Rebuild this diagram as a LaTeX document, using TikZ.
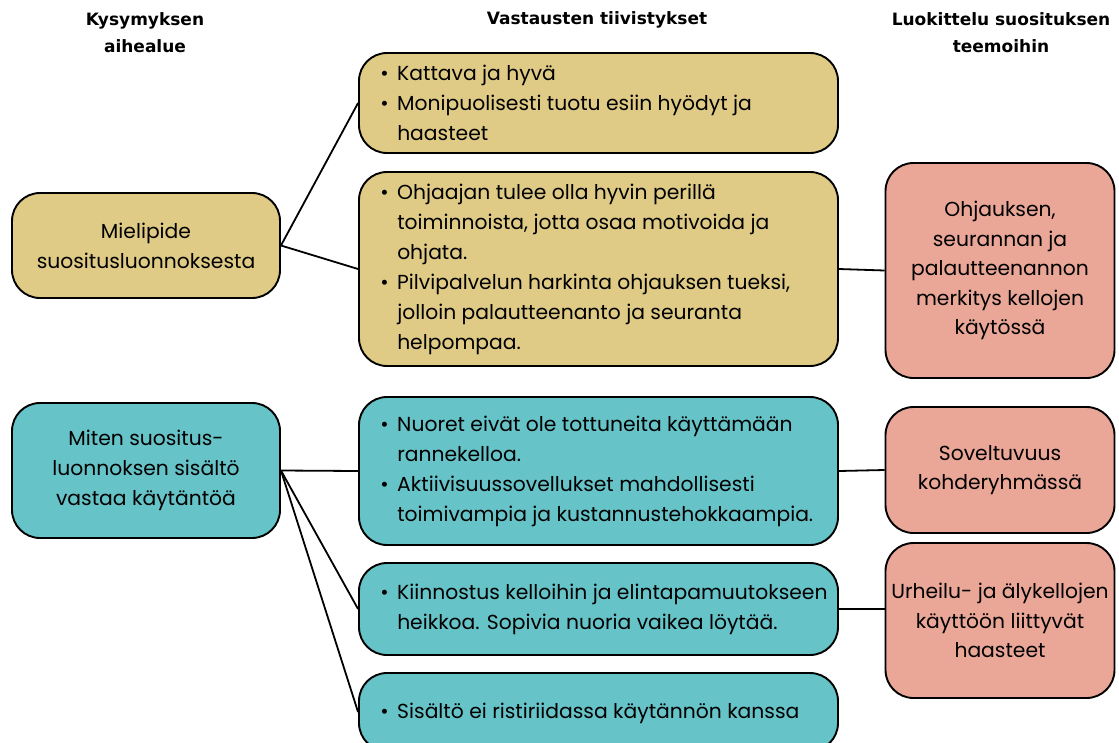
\documentclass[tikz,border=0pt]{standalone}
\usepackage{fontspec}
\setmainfont{Poppins}
\newfontfamily\headfont{DejaVu Sans}
\definecolor{ylw}{RGB}{223,203,134}
\definecolor{teal}{RGB}{102,195,200}
\definecolor{pink}{RGB}{234,167,152}
\newcommand\bul{\makebox[17pt][l]{\textbullet}}
\newcommand\ind{\hspace*{17pt}}
\begin{document}
\begin{tikzpicture}[x=1pt,y=-1pt,
  box/.style={draw=black, line width=1.9pt, rounded corners=28pt, inner sep=0pt},
  leftbox/.style={box, minimum width=268pt, align=center, font=\fontsize{20.3}{30}\selectfont},
  midbox/.style={box, minimum width=479pt},
  pinkbox/.style={box, fill=pink, minimum width=229pt, align=center, font=\fontsize{20.3}{29.5}\selectfont},
  midtext/.style={anchor=west, align=left, inner sep=0pt, font=\fontsize{20.3}{30}\selectfont},
  head/.style={align=center, inner sep=0pt, font=\headfont\bfseries\fontsize{17}{27}\selectfont},
  conn/.style={line width=1.8pt}]
\useasboundingbox (0,0) rectangle (1119,742);
\clip (0,0) rectangle (1119,742);

% headers
\node[head] (hk) at (145,33) {Kysymyksen\\aihealue};
\node[head] (hv) at (597,20) {Vastausten tiivistykset};
\node[head] (hl) at (1001,33) {Luokittelu suosituksen\\teemoihin};

% left boxes
\node[leftbox, fill=ylw, minimum height=105pt] (l1) at (146,245.5) {Mielipide\\suositusluonnoksesta};
\node[leftbox, fill=teal, minimum height=135pt] (l2) at (146,470.5) {Miten suositus-\\luonnoksen sisältö\\vastaa käytäntöä};

% middle boxes
\node[midbox, fill=ylw, minimum height=100pt] (m1) at (598.5,103) {};
\node[midbox, fill=ylw, minimum height=194pt] (m2) at (598.5,269) {};
\node[midbox, fill=teal, minimum height=148pt] (m3) at (598.5,471) {};
\node[midbox, fill=teal, minimum height=92pt] (m4) at (598.5,609) {};
\node[midbox, fill=teal, minimum height=78pt] (m5) at (598.5,712) {};

\node[midtext] (t1) at ([xshift=22pt]m1.west) {\bul Kattava ja hyvä\\\bul Monipuolisesti tuotu esiin hyödyt ja\\\ind haasteet};
\node[midtext] (t2) at ([xshift=22pt]m2.west) {\bul Ohjaajan tulee olla hyvin perillä\\\ind toiminnoista, jotta osaa motivoida ja\\\ind ohjata.\\\bul Pilvipalvelun harkinta ohjauksen tueksi,\\\ind jolloin palautteenanto ja seuranta\\\ind helpompaa.};
\node[midtext] (t3) at ([xshift=22pt]m3.west) {\bul Nuoret eivät ole tottuneita käyttämään\\\ind rannekelloa.\\\bul Aktiivisuussovellukset mahdollisesti\\\ind toimivampia ja kustannustehokkaampia.};
\node[midtext] (t4) at ([xshift=22pt]m4.west) {\bul Kiinnostus kelloihin ja elintapamuutokseen\\\ind heikkoa. Sopivia nuoria vaikea löytää.};
\node[midtext] (t5) at ([xshift=22pt,yshift=-1pt]m5.west) {\bul Sisältö ei ristiriidassa käytännön kanssa};

% pink boxes
\node[pinkbox, minimum height=215pt] (p1) at (1000,270.5) {Ohjauksen,\\seurannan ja\\palautteenannon\\merkitys kellojen\\käytössä};
\node[pinkbox, minimum height=126pt] (p2) at (1000,470) {Soveltuvuus\\kohderyhmässä};
\node[pinkbox, minimum height=155pt] (p3) at (1000,620.5) {Urheilu- ja älykellojen\\käyttöön liittyvät\\haasteet};

% connectors
\draw[conn] (l1.east) -- (m1.west);
\draw[conn] (l1.east) -- (m2.west);
\draw[conn] (l2.east) -- (m3.west);
\draw[conn] (l2.east) -- (m4.west);
\draw[conn] (l2.east) -- (m5.west);
\draw[conn] (m2.east) -- (p1.west);
\draw[conn] (m3.east) -- (p2.west);
\draw[conn] (m4.east) -- (m4.east -| p3.west);
\end{tikzpicture}
\end{document}
